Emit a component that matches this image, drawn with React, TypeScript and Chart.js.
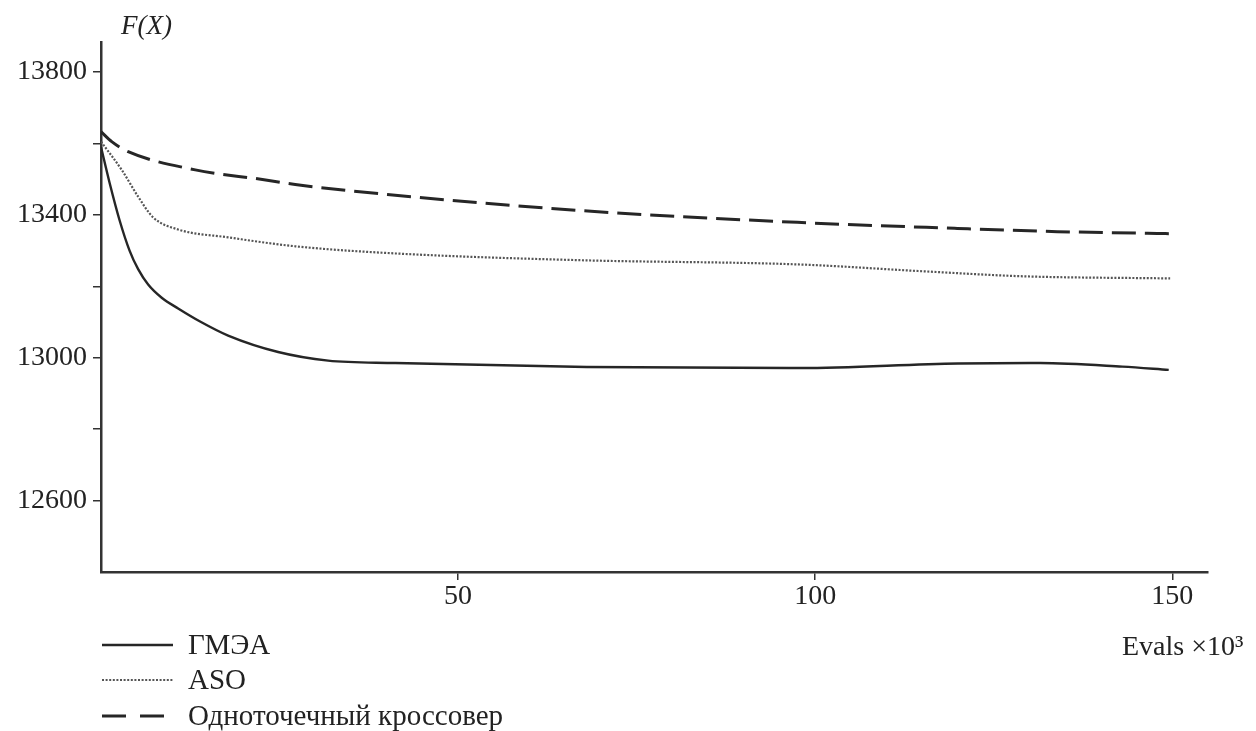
import React, { useEffect, useRef } from "react";
import { Chart, registerables } from "chart.js";

Chart.register(...registerables);

// ГМЭА (solid)
const gmeaX = [0, 1.2, 2.6, 4.0, 5.2, 6.6, 8.5, 10.8, 14, 17.8, 24.8, 31.8, 41.2, 68, 98, 120, 131.5, 143, 149.5];
const gmeaY = [13590, 13490, 13385, 13300, 13248, 13205, 13168, 13138, 13100, 13062, 13016, 12992, 12985, 12974, 12971, 12984, 12985, 12975, 12966];

// ASO (dotted)
const asoX = [0, 2.9, 5.2, 7.3, 10.8, 17.8, 27.2, 41.2, 67.1, 97.9, 115.1, 129.1, 149.7];
const asoY = [13605, 13526, 13451, 13393, 13359, 13337, 13312, 13292, 13273, 13261, 13242, 13228, 13222];

// Одноточечный кроссовер (dashed)
const onePointX = [0, 1.5, 3.8, 13.2, 22.6, 27.2, 40.1, 67.1, 97.5, 119.9, 133.9, 147.9, 150];
const onePointY = [13633, 13605, 13577, 13526, 13499, 13485, 13457, 13412, 13379, 13362, 13353, 13348, 13347];

const seriesNames = ["ГМЭА", "ASO", "Одноточечный кроссовер"];
const xTicks = [50, 100, 150];
const yTicks = [12600, 12800, 13000, 13200, 13400, 13600, 13800];
const yLabelled = [12600, 13000, 13400, 13800];
const yTitle = "F(X)";
const xTitle = "Evals ×10³";

const FONT = "'Liberation Serif', 'Times New Roman', serif";

const toPoints = (xs: number[], ys: number[]) => xs.map((x, i) => ({ x, y: ys[i] }));

const styles = [
  { color: "#262626", width: 2.4, dash: [] as number[] },
  { color: "#555555", width: 2.2, dash: [2, 1.6] },
  { color: "#262626", width: 3, dash: [24, 9] },
];

const textPlugin = {
  id: "extraText",
  afterDraw(chart: any) {
    const ctx = chart.ctx;
    ctx.save();
    ctx.fillStyle = "#222";
    ctx.textBaseline = "middle";
    // y title
    ctx.font = `italic 27px ${FONT}`;
    ctx.textAlign = "left";
    ctx.fillText(yTitle, 121, 27);
    // x title
    ctx.font = `28px ${FONT}`;
    ctx.fillText(xTitle, 1122, 648);
    // legend
    const rows = [645, 680, 716];
    seriesNames.forEach((name, i) => {
      const st = styles[i];
      ctx.save();
      ctx.strokeStyle = st.color;
      ctx.lineWidth = st.width;
      ctx.setLineDash(i === 2 ? [24, 14] : st.dash);
      ctx.beginPath();
      ctx.moveTo(102, rows[i]);
      ctx.lineTo(173, rows[i]);
      ctx.stroke();
      ctx.restore();
      ctx.font = `29px ${FONT}`;
      ctx.fillStyle = "#222";
      ctx.fillText(name, 188, rows[i] + 1);
    });
    ctx.restore();
  },
};

export default function App() {
  const ref = useRef<HTMLCanvasElement | null>(null);
  useEffect(() => {
    if (!ref.current) return;
    const data = [toPoints(gmeaX, gmeaY), toPoints(asoX, asoY), toPoints(onePointX, onePointY)];
    const chart = new Chart(ref.current, {
      type: "line",
      data: {
        datasets: data.map((d, i) => ({
          label: seriesNames[i],
          data: d,
          borderColor: styles[i].color,
          borderWidth: styles[i].width,
          borderDash: styles[i].dash,
          pointRadius: 0,
          fill: false,
          cubicInterpolationMode: "monotone" as const,
        })),
      },
      options: {
        animation: false,
        responsive: true,
        maintainAspectRatio: false,
        layout: { padding: { left: 0, right: 48, top: 42, bottom: 0 } },
        plugins: { legend: { display: false }, tooltip: { enabled: false } },
        scales: {
          x: {
            type: "linear",
            min: 0,
            max: 155,
            afterBuildTicks: (s: any) => {
              s.ticks = xTicks.map((v) => ({ value: v }));
            },
            afterFit: (s: any) => {
              s.height = 159;
            },
            ticks: {
              autoSkip: false,
              maxRotation: 0,
              color: "#222",
              font: { family: FONT, size: 28 },
              padding: 0,
            },
            grid: { drawOnChartArea: false, drawTicks: true, tickLength: 8, color: "#333", lineWidth: 1.5 },
            border: { display: true, color: "#333", width: 2.5 },
          },
          y: {
            type: "linear",
            min: 12400,
            max: 13884,
            afterBuildTicks: (s: any) => {
              s.ticks = yTicks.map((v) => ({ value: v }));
            },
            afterFit: (s: any) => {
              s.width = 101;
            },
            ticks: {
              autoSkip: false,
              color: "#222",
              font: { family: FONT, size: 28 },
              padding: 6,
              callback: (v: any) => (yLabelled.includes(Number(v)) ? String(v) : ""),
            },
            grid: { drawOnChartArea: false, drawTicks: true, tickLength: 8, color: "#333", lineWidth: 1.5 },
            border: { display: true, color: "#333", width: 2.5 },
          },
        },
      },
      plugins: [textPlugin],
    });
    return () => chart.destroy();
  }, []);
  return (
    <div style={{ position: "fixed", left: 0, top: 0, width: 1256, height: 731, background: "#fff" }}>
      <canvas ref={ref} />
    </div>
  );
}
